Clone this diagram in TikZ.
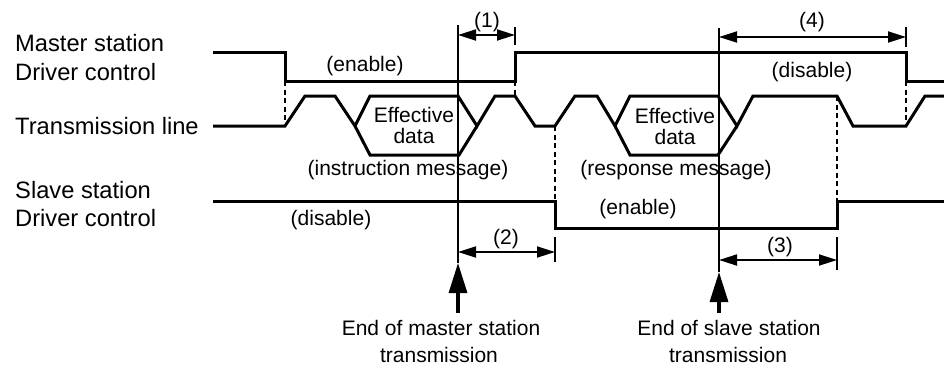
\documentclass[tikz,border=0pt]{standalone}
\usepackage{fontspec}
\setmainfont{Liberation Sans}
\usetikzlibrary{arrows.meta}
\begin{document}
\begin{tikzpicture}[x=1pt,y=-1pt,
  sig/.style={line width=3pt, line join=miter},
  refline/.style={line width=1.8pt},
  dsh/.style={line width=1.8pt, dash pattern=on 5pt off 3.5pt},
  dimarrow/.style={line width=1.8pt, {Triangle[length=18pt,width=11pt]}-{Triangle[length=18pt,width=11pt]}},
  tickline/.style={line width=1.8pt},
  bigarrow/.style={line width=3.2pt, -{Triangle[length=30pt,width=18pt]}},
  lab/.style={font=\fontsize{23.7}{28}\selectfont, anchor=base west, inner sep=0pt},
  txt/.style={font=\fontsize{21}{25}\selectfont, anchor=base, inner sep=0pt},
]
\useasboundingbox (0,0) rectangle (944,367);

% row labels
\node[lab] (l1) at (15,51.7) {Master station};
\node[lab] (l2) at (15,80) {Driver control};
\node[lab] (l3) at (15,134) {Transmission line};
\node[lab] (l4) at (15,198.3) {Slave station};
\node[lab] (l5) at (15,226.7) {Driver control};

% master driver control
\draw[sig] (213,52) -- (285,52) -- (285,81) -- (515,81) -- (515,52) -- (906,52) -- (906,81) -- (944,81);

% transmission line
\draw[sig] (213,126) -- (285,126) -- (305,96) -- (335,96) -- (355,126) -- (370,96) -- (458,96) -- (477,126)
  -- (495,96) -- (515,96) -- (535,126) -- (555,126) -- (575,96) -- (597,96) -- (615,126) -- (630,96)
  -- (718,96) -- (737,126) -- (753,96) -- (837,96) -- (853,126) -- (906,126) -- (925,96) -- (944,96);
\draw[sig] (355,126) -- (370,155) -- (459,155) -- (477,126);
\draw[sig] (615,126) -- (630,155) -- (718,155) -- (737,126);

% slave driver control
\draw[sig] (213,201) -- (555,201) -- (555,228) -- (837,228) -- (837,201) -- (944,201);

% dashed links
\draw[dsh] (285,81) -- (285,126);
\draw[dsh] (515,81) -- (515,96);
\draw[dsh] (555,126) -- (555,201);
\draw[dsh] (837,96) -- (837,201);
\draw[dsh] (906,81) -- (906,126);

% reference verticals
\coordinate (m1) at (458,263);
\coordinate (s1) at (719,272);
\draw[refline] (458,25) -- (m1);
\draw[refline] (719,28) -- (s1);

% dimension ticks and arrows
\draw[tickline] (515,27) -- (515,45);
\draw[dimarrow] (458,35) -- (515,35);
\draw[tickline] (906,27) -- (906,47);
\draw[dimarrow] (719,37) -- (906,37);
\draw[tickline] (555,237) -- (555,262);
\draw[dimarrow] (458,252) -- (555,252);
\draw[tickline] (837,237) -- (837,270);
\draw[dimarrow] (719,260) -- (837,260);

% big arrows
\draw[bigarrow] (458,313) -- (m1);
\draw[bigarrow] (719,313) -- (s1);

% texts
\node[txt] (t1) at (487,27) {(1)};
\node[txt] (t4) at (812,27.5) {(4)};
\node[txt] (men) at (365,71.5) {(enable)};
\node[txt] (mdis) at (812,77.5) {(disable)};
\node[txt] (e1a) at (414,122) {Effective};
\node[txt] (e1b) at (414,143) {data};
\node[txt] (e2a) at (675,123) {Effective};
\node[txt] (e2b) at (675,144) {data};
\node[txt] (im) at (408,175.6) {(instruction message)};
\node[txt] (rm) at (676,175.6) {(response message)};
\node[txt] (sdis) at (331,225.6) {(disable)};
\node[txt] (sen) at (638,214) {(enable)};
\node[txt] (t2) at (506,244) {(2)};
\node[txt] (t3) at (780,252) {(3)};
\node[txt] (em1) at (441,335) {End of master station};
\node[txt] (em2) at (439,362) {transmission};
\node[txt] (es1) at (729,335) {End of slave station};
\node[txt] (es2) at (728,362) {transmission};
\end{tikzpicture}
\end{document}
